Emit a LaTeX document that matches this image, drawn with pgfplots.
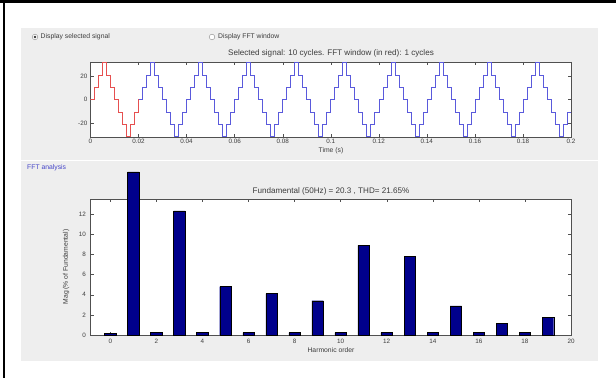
\documentclass[border=0pt]{standalone}
\usepackage{pgfplots}
\pgfplotsset{compat=1.18}
\usepackage{fontspec}
\setmainfont{Liberation Sans}
\definecolor{panel}{RGB}{238,238,238}
\definecolor{barblue}{RGB}{0,0,140}
\definecolor{sigblue}{RGB}{90,90,220}
\definecolor{sigred}{RGB}{230,80,80}
\definecolor{axgray}{RGB}{80,80,80}
\definecolor{txt}{RGB}{60,60,60}
\definecolor{fftblue}{RGB}{70,70,200}
\newcommand{\tk}{\fontsize{6.3}{7}\selectfont}
\newcommand{\sm}{\fontsize{6.8}{7.5}\selectfont}
\newcommand{\md}{\fontsize{8.1}{9}\selectfont}
\begin{document}
\begin{tikzpicture}
\begin{scope}[x=1pt,y=1pt]
\path[use as bounding box] (0,0) rectangle (616,378);
\fill[white] (0,0) rectangle (616,378);
\fill[panel] (21,17) rectangle (598,350);
\fill[black] (0,374.5) rectangle (616,378);
\fill[black] (3,0) rectangle (4.6,378);
\draw[black!30, line width=0.6pt] (21,218) -- (598,218);
\draw[white, line width=0.6pt] (21,217.3) -- (598,217.3);
% radio buttons
\draw[black!45, fill=white, line width=0.4pt] (35,341) circle (2.8);
\fill[black!80] (35,341) circle (1.4);
\node[anchor=west, inner sep=0pt, font=\sm, text=txt] at (40.5,341) {Display selected signal};
\draw[black!45, fill=white, line width=0.4pt] (212,341) circle (2.8);
\node[anchor=west, inner sep=0pt, font=\sm, text=txt] at (218,341) {Display FFT window};
% titles and labels
\node[font=\md, text=txt, inner sep=0pt] at (331,325) {Selected signal: 10 cycles. FFT window (in red): 1 cycles};
\node[font=\sm, text=txt, inner sep=0pt] at (331,227) {Time (s)};
\node[anchor=west, font=\sm, text=fftblue, inner sep=0pt] at (27,210) {FFT analysis};
\node[font=\md, text=txt, inner sep=0pt] at (331,187) {Fundamental (50Hz) = 20.3 , THD= 21.65\%};
\node[font=\sm, text=txt, inner sep=0pt] at (331,28) {Harmonic order};
\node[font=\sm, text=txt, inner sep=0pt, rotate=90] at (66,111) {Mag (\% of Fundamental)};
\end{scope}

\begin{axis}[
  at={(90.5pt,241pt)}, anchor=south west, scale only axis,
  width=480.5pt, height=75pt,
  xmin=0, xmax=0.2, ymin=-32, ymax=32,
  axis background/.style={fill=white},
  axis line style={axgray, line width=0.5pt},
  tick align=inside, major tick length=3pt,
  tick style={axgray, line width=0.4pt},
  xtick={0,0.02,0.04,0.06,0.08,0.1,0.12,0.14,0.16,0.18,0.2},
  xticklabels={0,0.02,0.04,0.06,0.08,0.1,0.12,0.14,0.16,0.18,0.2},
  ytick={-20,0,20},
  ticklabel style={font=\tk, text=txt},
  xticklabel style={inner sep=0pt, anchor=north, yshift=-2pt},
  yticklabel style={inner sep=0pt, anchor=east, xshift=-3pt},
  /pgf/number format/assume math mode=true,
]
\addplot[const plot mark left, color=sigred, line width=0.6pt] table[row sep=\\] {
t v\\
0 0\\ 0.001667 10.5\\ 0.003333 21\\ 0.005 31.5\\ 0.006667 21\\ 0.008333 10.5\\
0.01 0\\ 0.011667 -10.5\\ 0.013333 -21\\ 0.015 -31.5\\ 0.016667 -21\\ 0.018333 -10.5\\
0.02 0\\
};
\addplot[const plot mark left, color=sigblue, line width=0.6pt] table[row sep=\\] {
t v\\
0.02 0\\ 0.021667 10.5\\ 0.023333 21\\ 0.025 31.5\\ 0.026667 21\\ 0.028333 10.5\\
0.03 0\\ 0.031667 -10.5\\ 0.033333 -21\\ 0.035 -31.5\\ 0.036667 -21\\ 0.038333 -10.5\\
0.04 0\\ 0.041667 10.5\\ 0.043333 21\\ 0.045 31.5\\ 0.046667 21\\ 0.048333 10.5\\
0.05 0\\ 0.051667 -10.5\\ 0.053333 -21\\ 0.055 -31.5\\ 0.056667 -21\\ 0.058333 -10.5\\
0.06 0\\ 0.061667 10.5\\ 0.063333 21\\ 0.065 31.5\\ 0.066667 21\\ 0.068333 10.5\\
0.07 0\\ 0.071667 -10.5\\ 0.073333 -21\\ 0.075 -31.5\\ 0.076667 -21\\ 0.078333 -10.5\\
0.08 0\\
};
\addplot[const plot mark left, color=sigblue, line width=0.6pt] table[row sep=\\] {
t v\\
0.08 0\\ 0.081667 10.5\\ 0.083333 21\\ 0.085 31.5\\ 0.086667 21\\ 0.088333 10.5\\
0.09 0\\ 0.091667 -10.5\\ 0.093333 -21\\ 0.095 -31.5\\ 0.096667 -21\\ 0.098333 -10.5\\
0.1 0\\ 0.101667 10.5\\ 0.103333 21\\ 0.105 31.5\\ 0.106667 21\\ 0.108333 10.5\\
0.11 0\\ 0.111667 -10.5\\ 0.113333 -21\\ 0.115 -31.5\\ 0.116667 -21\\ 0.118333 -10.5\\
0.12 0\\ 0.121667 10.5\\ 0.123333 21\\ 0.125 31.5\\ 0.126667 21\\ 0.128333 10.5\\
0.13 0\\ 0.131667 -10.5\\ 0.133333 -21\\ 0.135 -31.5\\ 0.136667 -21\\ 0.138333 -10.5\\
0.14 0\\
};
\addplot[const plot mark left, color=sigblue, line width=0.6pt] table[row sep=\\] {
t v\\
0.14 0\\ 0.141667 10.5\\ 0.143333 21\\ 0.145 31.5\\ 0.146667 21\\ 0.148333 10.5\\
0.15 0\\ 0.151667 -10.5\\ 0.153333 -21\\ 0.155 -31.5\\ 0.156667 -21\\ 0.158333 -10.5\\
0.16 0\\ 0.161667 10.5\\ 0.163333 21\\ 0.165 31.5\\ 0.166667 21\\ 0.168333 10.5\\
0.17 0\\ 0.171667 -10.5\\ 0.173333 -21\\ 0.175 -31.5\\ 0.176667 -21\\ 0.178333 -10.5\\
0.18 0\\ 0.181667 10.5\\ 0.183333 21\\ 0.185 31.5\\ 0.186667 21\\ 0.188333 10.5\\
0.19 0\\ 0.191667 -10.5\\ 0.193333 -21\\ 0.195 -31.5\\ 0.196667 -21\\ 0.198333 -10.5\\
0.2 -10.5\\
};
\end{axis}

\begin{axis}[
  at={(90.5pt,43pt)}, anchor=south west, scale only axis,
  width=480.5pt, height=136pt,
  xmin=-0.86, xmax=20, ymin=0, ymax=13.5,
  clip=false,
  axis background/.style={fill=white},
  axis line style={axgray, line width=0.5pt},
  tick align=inside, major tick length=3pt,
  tick style={axgray, line width=0.4pt},
  xtick={0,2,...,20}, ytick={0,2,...,12},
  ticklabel style={font=\tk, text=txt},
  xticklabel style={inner sep=0pt, anchor=north, yshift=-4pt},
  yticklabel style={inner sep=0pt, anchor=east, xshift=-4.5pt},
  /pgf/number format/assume math mode=true,
]
\addplot[ybar, bar width=0.5, fill=barblue, draw=black, line width=0.4pt] coordinates {
(0,0.15) (1,16.2) (2,0.23) (3,12.33) (4,0.23) (5,4.8) (6,0.23) (7,4.1) (8,0.23) (9,3.4)
(10,0.23) (11,8.9) (12,0.23) (13,7.8) (14,0.23) (15,2.9) (16,0.23) (17,1.15) (18,0.23) (19,1.75)
};
\end{axis}
\end{tikzpicture}
\end{document}
